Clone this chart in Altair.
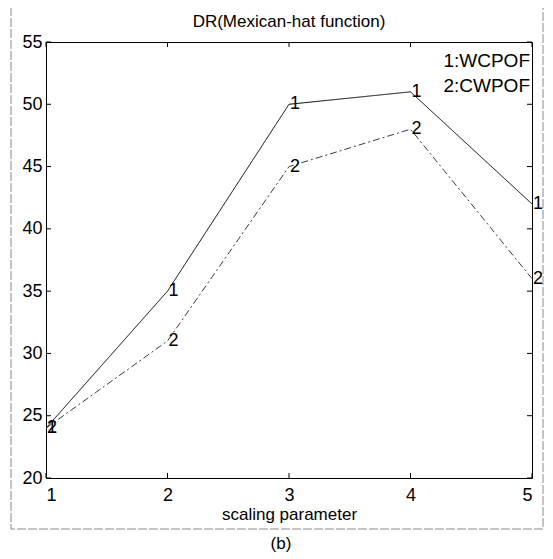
import altair as alt
import pandas as pd

x_vals = [1, 2, 3, 4, 5]
wcpof = [24, 35, 50, 51, 42]
cwpof = [24, 31, 45, 48, 36]
series_ids = ["1", "2"]
legend_labels = ["1:WCPOF", "2:CWPOF"]
x_ticks = [1, 2, 3, 4, 5]
y_ticks = [20, 25, 30, 35, 40, 45, 50, 55]
title_text = "DR(Mexican-hat function)"
x_title = "scaling parameter"
sub_text = "(b)"

W, H = 486, 436
FONT = "Liberation Sans"

rows = []
for sid, vals in zip(series_ids, [wcpof, cwpof]):
    for i, (x, v) in enumerate(zip(x_vals, vals)):
        rows.append({"x": x, "v": v, "s": sid, "order": i})
df = pd.DataFrame(rows)

xscale = alt.Scale(domain=[1, 5], nice=False, zero=False)
yscale = alt.Scale(domain=[20, 55], nice=False, zero=False)
xaxis = alt.Axis(values=x_ticks, format="d", ticks=False, domain=False, grid=False, labelPadding=8,
                 title=x_title, titlePadding=2)
yaxis = alt.Axis(values=y_ticks, ticks=False, domain=False, grid=False, labelPadding=4, title="")


def X(f):
    return alt.X(f, scale=xscale, axis=xaxis)


def Y(f):
    return alt.Y(f, scale=yscale, axis=yaxis)


lines = alt.Chart(df).mark_line(strokeWidth=1).encode(
    x=X("x:Q"), y=Y("v:Q"),
    color=alt.Color("s:N", scale=alt.Scale(domain=series_ids, range=["#000000", "#3a3a3a"]), legend=None),
    strokeDash=alt.StrokeDash("s:N", scale=alt.Scale(domain=series_ids, range=[[1, 0], [7, 3, 2, 3]]), legend=None),
    order="order:Q",
)

labels = alt.Chart(df).mark_text(align="left", baseline="middle", dx=1, fontSize=18, font=FONT, fill="black").encode(
    x=X("x:Q"), y=Y("v:Q"), text="s:N",
)

ydf = pd.DataFrame({"v": y_ticks})
xdf = pd.DataFrame({"x": x_ticks})
tick_layers = [
    alt.Chart(ydf).mark_rule(color="black").encode(y=Y("v:Q"), x=alt.value(0), x2=alt.value(5)),
    alt.Chart(ydf).mark_rule(color="black").encode(y=Y("v:Q"), x=alt.value(W - 5), x2=alt.value(W)),
    alt.Chart(xdf).mark_rule(color="black").encode(x=X("x:Q"), y=alt.value(H - 5), y2=alt.value(H)),
    alt.Chart(xdf).mark_rule(color="black").encode(x=X("x:Q"), y=alt.value(0), y2=alt.value(5)),
]

legend_layers = []
for i, lab in enumerate(legend_labels):
    legend_layers.append(
        alt.Chart(pd.DataFrame({"label": [lab]})).mark_text(align="right", baseline="middle", fontSize=19, font=FONT, fill="black").encode(
            x=alt.value(W - 2), y=alt.value(19 + 25 * i), text="label:N")
    )

frame = alt.Chart(pd.DataFrame({"a": [0]})).mark_rect(fillOpacity=0, stroke="#8a8a8a", strokeWidth=1, strokeDash=[9, 2]).encode(
    x=alt.value(-35), x2=alt.value(W + 11), y=alt.value(-37), y2=alt.value(H + 51)
)

title = alt.Chart(pd.DataFrame({"t": [title_text]})).mark_text(align="center", baseline="alphabetic", fontSize=17, font=FONT, fill="black").encode(
    x=alt.value(W / 2), y=alt.value(-15), text="t:N"
)

sub = alt.Chart(pd.DataFrame({"t": [sub_text]})).mark_text(align="center", baseline="middle", fontSize=17, font=FONT, fill="black").encode(
    x=alt.value(W / 2 - 8), y=alt.value(H + 66), text="t:N"
)

chart = alt.layer(frame, lines, labels, *tick_layers, *legend_layers, title, sub).properties(
    width=W, height=H,
    autosize=alt.AutoSizeParams(type="none"),
    padding={"left": 38, "top": 34, "right": 13, "bottom": 76},
).configure_view(stroke="black", strokeWidth=1).configure_axis(
    labelFont=FONT, labelFontSize=18, titleFont=FONT, titleFontSize=17, titleFontWeight="normal",
    labelColor="black", titleColor="black"
)

chart.save("out.html", embed_options={"renderer": "svg", "actions": False})
